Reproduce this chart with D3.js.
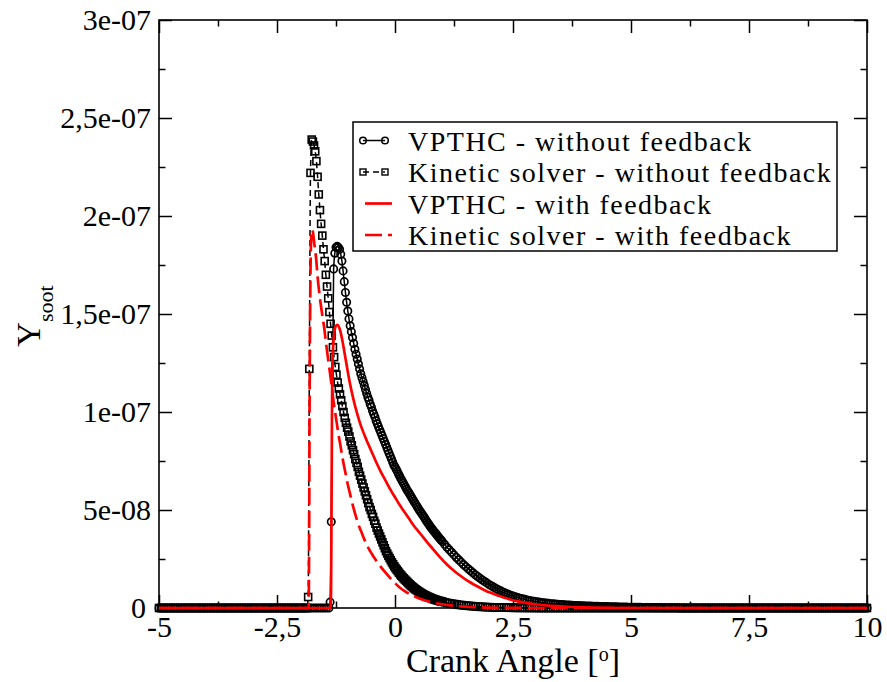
<!DOCTYPE html>
<html><head><meta charset="utf-8">
<script src="https://cdn.jsdelivr.net/npm/d3@7"></script>
<style>
body{margin:0;background:#fff}
svg text{font-family:"Liberation Serif","Times New Roman",serif;fill:#000}
</style>
</head><body>
<svg id="chart" width="887" height="682"></svg>
<script>
// ---------- data (values in units of 1e-8) ----------
const valueUnit = 1e-8;
const xMajorTicks = [-5, -2.5, 0, 2.5, 5, 7.5, 10];
const xTickLabels = ["-5", "-2,5", "0", "2,5", "5", "7,5", "10"];
const xMinorTicks = [-3.75, -1.25, 1.25, 3.75, 6.25, 8.75];
const yMajorTicks = [0, 5e-8, 1e-7, 1.5e-7, 2e-7, 2.5e-7, 3e-7];
const yTickLabels = ["0", "5e-08", "1e-07", "1,5e-07", "2e-07", "2,5e-07", "3e-07"];
const yMinorTicks = [2.5e-8, 7.5e-8, 1.25e-7, 1.75e-7, 2.25e-7, 2.75e-7];
const seriesNames = ["VPTHC - without feedback", "Kinetic solver - without feedback", "VPTHC - with feedback", "Kinetic solver - with feedback"];

// VPTHC - without feedback (circles)
const vpthcNoFeedback = [
[-5,0],[-4.95,0],[-4.9,0],[-4.85,0],[-4.8,0],[-4.75,0],[-4.7,0],[-4.65,0],[-4.6,0],[-4.55,0],
[-4.5,0],[-4.45,0],[-4.4,0],[-4.35,0],[-4.3,0],[-4.25,0],[-4.2,0],[-4.15,0],[-4.1,0],[-4.05,0],
[-4,0],[-3.95,0],[-3.9,0],[-3.85,0],[-3.8,0],[-3.75,0],[-3.7,0],[-3.65,0],[-3.6,0],[-3.55,0],
[-3.5,0],[-3.45,0],[-3.4,0],[-3.35,0],[-3.3,0],[-3.25,0],[-3.2,0],[-3.15,0],[-3.1,0],[-3.05,0],
[-3,0],[-2.95,0],[-2.9,0],[-2.85,0],[-2.8,0],[-2.75,0],[-2.7,0],[-2.65,0],[-2.6,0],[-2.55,0],
[-2.5,0],[-2.45,0],[-2.4,0],[-2.35,0],[-2.3,0],[-2.25,0],[-2.2,0],[-2.15,0],[-2.1,0],[-2.05,0],
[-2,0],[-1.95,0],[-1.9,0],[-1.85,0],[-1.8,0],[-1.75,0],[-1.7,0],[-1.65,0],[-1.6,0],[-1.55,0],
[-1.5,0],[-1.45,0],[-1.4,0],
[-1.375,0.3],[-1.35,4.4],[-1.3,17.3],[-1.275,18.1],[-1.25,18.4],[-1.225,18.45],[-1.2,18.4],[-1.175,18.3],
[-1.15,18.05],[-1.125,17.7],[-1.1,17.2],[-1.075,16.65],[-1.05,16.1],[-1.025,15.6],[-1,15.15],[-0.975,14.75],
[-0.95,14.4],[-0.925,14.1],[-0.9,13.8],[-0.875,13.5],[-0.85,13.2],[-0.825,12.95],[-0.8,12.7],[-0.775,12.45],
[-0.75,12.2],[-0.725,11.95],[-0.7,11.75],[-0.675,11.55],[-0.65,11.35],[-0.625,11.15],[-0.6,10.95],[-0.575,10.75],
[-0.55,10.6],[-0.525,10.4],[-0.5,10.25],[-0.475,10.05],[-0.45,9.9],[-0.425,9.75],[-0.4,9.55],[-0.375,9.4],
[-0.35,9.25],[-0.325,9.1],[-0.3,8.95],[-0.275,8.8],[-0.25,8.65],[-0.225,8.5],[-0.2,8.35],[-0.175,8.2],
[-0.15,8.05],[-0.125,7.9],[-0.1,7.75],[-0.075,7.6],[-0.05,7.45],[-0.025,7.3],[0,7.2],[0.025,7.08],
[0.05,6.96],[0.075,6.84],[0.1,6.72],[0.125,6.6],[0.15,6.49],[0.175,6.38],[0.2,6.27],[0.225,6.16],
[0.25,6.05],[0.275,5.95],[0.3,5.85],[0.325,5.75],[0.35,5.65],[0.375,5.55],[0.4,5.45],[0.425,5.35],
[0.45,5.25],[0.475,5.15],[0.5,5.05],[0.525,4.96],[0.55,4.87],[0.575,4.78],[0.6,4.69],[0.625,4.6],
[0.65,4.5],[0.675,4.41],[0.7,4.32],[0.725,4.23],[0.75,4.15],[0.775,4.07],[0.8,3.99],[0.825,3.91],
[0.85,3.84],[0.875,3.76],[0.9,3.69],[0.925,3.61],[0.95,3.54],[0.975,3.47],[1,3.4],
[1.05,3.25],[1.1,3.1],[1.15,2.97],[1.2,2.84],[1.25,2.71],[1.3,2.58],[1.35,2.46],[1.4,2.34],
[1.45,2.22],[1.5,2.11],[1.55,2.0],[1.6,1.9],[1.65,1.8],[1.7,1.7],[1.75,1.61],[1.8,1.52],
[1.85,1.43],[1.9,1.35],[1.95,1.27],[2,1.19],[2.05,1.12],[2.1,1.05],[2.15,0.98],[2.2,0.92],
[2.25,0.86],[2.3,0.8],[2.35,0.75],[2.4,0.7],[2.45,0.65],[2.5,0.61],[2.55,0.57],[2.6,0.53],
[2.65,0.5],[2.7,0.47],[2.75,0.44],[2.8,0.41],[2.85,0.38],[2.9,0.36],[2.95,0.34],[3,0.32],
[3.05,0.3],[3.1,0.28],[3.15,0.265],[3.2,0.25],[3.25,0.235],[3.3,0.22],[3.35,0.21],[3.4,0.2],
[3.45,0.19],[3.5,0.18],[3.55,0.17],[3.6,0.16],[3.65,0.152],[3.7,0.145],[3.75,0.137],[3.8,0.13],
[3.85,0.125],[3.9,0.12],[3.95,0.115],[4,0.11],[4.05,0.105],[4.1,0.1],[4.15,0.095],[4.2,0.09],
[4.25,0.087],[4.3,0.085],[4.35,0.08],[4.4,0.075],[4.45,0.072],[4.5,0.07],[4.55,0.065],[4.6,0.06],
[4.65,0.057],[4.7,0.055],[4.75,0.052],[4.8,0.05],[4.85,0.047],[4.9,0.045],[4.95,0.042],[5,0.04],
[5.05,0.037],[5.1,0.035],[5.15,0.032],[5.2,0.03],[5.25,0.028],[5.3,0.027],[5.35,0.025],[5.4,0.024],
[5.45,0.022],[5.5,0.02],[5.55,0.019],[5.6,0.018],[5.65,0.016],[5.7,0.015],[5.75,0.013],[5.8,0.012],
[5.85,0.011],[5.9,0.01],[5.95,0.009],[6,0.008],
[6.05,0],[6.1,0],[6.15,0],[6.2,0],[6.25,0],[6.3,0],[6.35,0],[6.4,0],[6.45,0],[6.5,0],
[6.55,0],[6.6,0],[6.65,0],[6.7,0],[6.75,0],[6.8,0],[6.85,0],[6.9,0],[6.95,0],[7,0],
[7.05,0],[7.1,0],[7.15,0],[7.2,0],[7.25,0],[7.3,0],[7.35,0],[7.4,0],[7.45,0],[7.5,0],
[7.55,0],[7.6,0],[7.65,0],[7.7,0],[7.75,0],[7.8,0],[7.85,0],[7.9,0],[7.95,0],[8,0],
[8.05,0],[8.1,0],[8.15,0],[8.2,0],[8.25,0],[8.3,0],[8.35,0],[8.4,0],[8.45,0],[8.5,0],
[8.55,0],[8.6,0],[8.65,0],[8.7,0],[8.75,0],[8.8,0],[8.85,0],[8.9,0],[8.95,0],[9,0],
[9.05,0],[9.1,0],[9.15,0],[9.2,0],[9.25,0],[9.3,0],[9.35,0],[9.4,0],[9.45,0],[9.5,0],
[9.55,0],[9.6,0],[9.65,0],[9.7,0],[9.75,0],[9.8,0],[9.85,0],[9.9,0],[9.95,0],[10,0]
];

// Kinetic solver - without feedback (squares)
const kineticNoFeedback = [
[-5,0],[-4.95,0],[-4.9,0],[-4.85,0],[-4.8,0],[-4.75,0],[-4.7,0],[-4.65,0],[-4.6,0],[-4.55,0],
[-4.5,0],[-4.45,0],[-4.4,0],[-4.35,0],[-4.3,0],[-4.25,0],[-4.2,0],[-4.15,0],[-4.1,0],[-4.05,0],
[-4,0],[-3.95,0],[-3.9,0],[-3.85,0],[-3.8,0],[-3.75,0],[-3.7,0],[-3.65,0],[-3.6,0],[-3.55,0],
[-3.5,0],[-3.45,0],[-3.4,0],[-3.35,0],[-3.3,0],[-3.25,0],[-3.2,0],[-3.15,0],[-3.1,0],[-3.05,0],
[-3,0],[-2.95,0],[-2.9,0],[-2.85,0],[-2.8,0],[-2.75,0],[-2.7,0],[-2.65,0],[-2.6,0],[-2.55,0],
[-2.5,0],[-2.45,0],[-2.4,0],[-2.35,0],[-2.3,0],[-2.25,0],[-2.2,0],[-2.15,0],[-2.1,0],[-2.05,0],
[-2,0],[-1.95,0],[-1.9,0],[-1.865,0],
[-1.84,0.56],[-1.815,12.2],[-1.79,22.2],[-1.765,23.9],[-1.74,23.8],[-1.715,23.6],[-1.69,23.3],[-1.665,22.8],
[-1.64,22.0],[-1.615,21.1],[-1.59,20.3],[-1.565,19.6],[-1.54,19.0],[-1.515,18.3],[-1.49,17.7],[-1.465,17.0],
[-1.44,16.4],[-1.415,15.8],[-1.39,15.1],[-1.365,14.5],[-1.34,13.9],[-1.315,13.3],[-1.29,12.8],[-1.265,12.3],
[-1.24,11.9],[-1.215,11.5],[-1.19,11.2],[-1.165,10.9],[-1.14,10.6],[-1.115,10.3],[-1.09,10.0],[-1.065,9.7],
[-1.04,9.45],[-1.015,9.2],[-0.99,9.0],[-0.965,8.75],[-0.94,8.5],[-0.915,8.3],[-0.89,8.05],[-0.865,7.85],
[-0.84,7.6],[-0.815,7.4],[-0.79,7.2],[-0.765,6.95],[-0.74,6.75],[-0.715,6.55],[-0.69,6.35],[-0.665,6.15],
[-0.64,5.95],[-0.615,5.75],[-0.59,5.55],[-0.565,5.35],[-0.54,5.15],[-0.515,5.0],[-0.49,4.8],[-0.465,4.65],
[-0.44,4.45],[-0.415,4.3],[-0.39,4.1],[-0.365,3.95],[-0.34,3.8],[-0.315,3.65],[-0.29,3.5],[-0.265,3.35],
[-0.24,3.2],[-0.215,3.05],[-0.19,2.9],[-0.165,2.78],[-0.14,2.66],[-0.115,2.55],[-0.09,2.44],[-0.065,2.33],
[-0.04,2.23],[-0.015,2.13],[0.01,2.04],[0.035,1.96],[0.06,1.88],[0.085,1.8],[0.11,1.72],[0.135,1.65],
[0.16,1.58],[0.185,1.51],[0.21,1.45],[0.235,1.39],[0.26,1.33],[0.285,1.27],[0.31,1.21],[0.335,1.15],
[0.36,1.1],[0.385,1.05],[0.41,1.0],[0.435,0.95],[0.46,0.91],[0.485,0.87],[0.51,0.83],[0.535,0.79],
[0.56,0.75],[0.585,0.71],[0.61,0.68],[0.635,0.65],[0.66,0.62],[0.685,0.59],[0.71,0.56],[0.735,0.535],
[0.76,0.51],[0.785,0.485],[0.81,0.46],[0.835,0.44],[0.86,0.42],[0.885,0.4],[0.91,0.38],[0.935,0.365],
[0.96,0.35],[0.985,0.335],[1.01,0.32],[1.06,0.29],[1.11,0.26],[1.16,0.24],[1.21,0.22],[1.26,0.2],
[1.31,0.18],[1.36,0.16],[1.41,0.15],[1.46,0.13],[1.51,0.12],[1.56,0.11],[1.61,0.1],[1.66,0.09],
[1.71,0.08],[1.76,0.07],[1.81,0.06],[1.86,0.055],[1.91,0.05],[1.96,0.045],[2.01,0.04],[2.06,0.035],
[2.11,0.03],[2.16,0.027],[2.21,0.024],[2.26,0.02],[2.31,0.018],[2.36,0.016],[2.41,0.014],[2.46,0.012],
[2.51,0.01],[2.55,0.009],[2.6,0.008],[2.65,0.007],[2.7,0.006],[2.75,0.0055],[2.8,0.005],[2.85,0.0045],
[2.9,0.004],[2.95,0.0035],[3,0.003],
[3.05,0],[3.1,0],[3.15,0],[3.2,0],[3.25,0],[3.3,0],[3.35,0],[3.4,0],[3.45,0],[3.5,0],
[3.55,0],[3.6,0],[3.65,0],[3.7,0],[3.75,0],[3.8,0],[3.85,0],[3.9,0],[3.95,0],[4,0],
[4.05,0],[4.1,0],[4.15,0],[4.2,0],[4.25,0],[4.3,0],[4.35,0],[4.4,0],[4.45,0],[4.5,0],
[4.55,0],[4.6,0],[4.65,0],[4.7,0],[4.75,0],[4.8,0],[4.85,0],[4.9,0],[4.95,0],[5,0],
[5.05,0],[5.1,0],[5.15,0],[5.2,0],[5.25,0],[5.3,0],[5.35,0],[5.4,0],[5.45,0],[5.5,0],
[5.55,0],[5.6,0],[5.65,0],[5.7,0],[5.75,0],[5.8,0],[5.85,0],[5.9,0],[5.95,0],[6,0],
[6.05,0],[6.1,0],[6.15,0],[6.2,0],[6.25,0],[6.3,0],[6.35,0],[6.4,0],[6.45,0],[6.5,0],
[6.55,0],[6.6,0],[6.65,0],[6.7,0],[6.75,0],[6.8,0],[6.85,0],[6.9,0],[6.95,0],[7,0],
[7.05,0],[7.1,0],[7.15,0],[7.2,0],[7.25,0],[7.3,0],[7.35,0],[7.4,0],[7.45,0],[7.5,0],
[7.55,0],[7.6,0],[7.65,0],[7.7,0],[7.75,0],[7.8,0],[7.85,0],[7.9,0],[7.95,0],[8,0],
[8.05,0],[8.1,0],[8.15,0],[8.2,0],[8.25,0],[8.3,0],[8.35,0],[8.4,0],[8.45,0],[8.5,0],
[8.55,0],[8.6,0],[8.65,0],[8.7,0],[8.75,0],[8.8,0],[8.85,0],[8.9,0],[8.95,0],[9,0],
[9.05,0],[9.1,0],[9.15,0],[9.2,0],[9.25,0],[9.3,0],[9.35,0],[9.4,0],[9.45,0],[9.5,0],
[9.55,0],[9.6,0],[9.65,0],[9.7,0],[9.75,0],[9.8,0],[9.85,0],[9.9,0],[9.95,0],[10,0]
];

// VPTHC - with feedback (red solid)
const vpthcFeedback = [
[-5,0],[-1.37,0],[-1.355,0.8],[-1.345,5],[-1.335,10],[-1.32,12.8],[-1.3,13.7],[-1.28,14.15],[-1.25,14.4],
[-1.22,14.45],[-1.18,14.3],[-1.14,13.95],[-1.1,13.45],[-1.05,12.75],[-1,12.05],[-0.95,11.4],[-0.9,10.85],
[-0.85,10.35],[-0.8,9.9],[-0.75,9.5],[-0.7,9.15],[-0.6,8.55],[-0.5,8.0],[-0.4,7.45],[-0.3,6.95],
[-0.2,6.5],[-0.1,6.05],[0,5.65],[0.1,5.25],[0.2,4.9],[0.3,4.55],[0.4,4.2],[0.5,3.9],[0.6,3.6],
[0.7,3.3],[0.8,3.02],[0.9,2.74],[1,2.47],[1.1,2.22],[1.2,2.0],[1.3,1.8],[1.4,1.62],[1.5,1.45],
[1.6,1.3],[1.7,1.16],[1.8,1.03],[1.9,0.91],[2,0.8],[2.2,0.62],[2.4,0.46],[2.6,0.34],[2.8,0.25],
[3,0.18],[3.25,0.12],[3.5,0.08],[3.75,0.05],[4,0.03],[4.5,0.01],[5,0],[10,0]
];

// Kinetic solver - with feedback (red dashed)
const kineticFeedback = [
[-5,0],[-1.83,0],[-1.82,3],[-1.81,10],[-1.795,16],[-1.78,18.6],[-1.76,19.3],[-1.74,19.2],[-1.72,18.8],
[-1.7,18.4],[-1.67,17.8],[-1.64,16.9],[-1.6,16.0],[-1.55,15.1],[-1.5,14.3],[-1.45,13.3],[-1.4,12.4],
[-1.35,11.5],[-1.3,10.5],[-1.25,9.7],[-1.2,8.9],[-1.15,8.2],[-1.1,7.5],[-1.05,6.9],[-1,6.3],
[-0.95,5.8],[-0.9,5.3],[-0.85,4.85],[-0.8,4.45],[-0.75,4.1],[-0.7,3.8],[-0.65,3.5],[-0.6,3.25],
[-0.55,3.0],[-0.5,2.8],[-0.45,2.6],[-0.4,2.42],[-0.35,2.26],[-0.3,2.1],[-0.2,1.8],[-0.1,1.52],
[0,1.27],[0.1,1.05],[0.2,0.87],[0.3,0.72],[0.4,0.6],[0.5,0.5],[0.6,0.41],[0.7,0.34],[0.8,0.28],
[0.9,0.23],[1,0.19],[1.2,0.13],[1.4,0.08],[1.6,0.05],[1.8,0.03],[2,0.02],[2.5,0.005],[3,0],[10,0]
];

// ---------- drawing ----------
const svg = d3.select("#chart");
const L = 159, R = 867, T = 20, B = 608;
const x = d3.scaleLinear().domain([-5, 10]).range([L, R]);
const y = d3.scaleLinear().domain([0, 3e-7]).range([B, T]);
const FONT = '"Liberation Serif","Times New Roman",serif';
const CIRCLE_R = 3.7, SQUARE = 7;

function styleAxis(g) {
  g.select(".domain").remove();
  g.selectAll(".tick line").attr("stroke", "#000").attr("stroke-width", 1.5);
  g.selectAll(".tick text").attr("font-size", 30).attr("font-family", FONT).attr("fill", "#000");
}
svg.append("g").attr("transform", `translate(0,${B})`)
  .call(d3.axisBottom(x).tickValues(xMajorTicks).tickSize(-13).tickPadding(8).tickFormat((d, i) => xTickLabels[i])).call(styleAxis);
svg.append("g").attr("transform", `translate(0,${B})`)
  .call(d3.axisBottom(x).tickValues(xMinorTicks).tickSize(-6.5).tickFormat("")).call(styleAxis);
svg.append("g").attr("transform", `translate(0,${T})`)
  .call(d3.axisTop(x).tickValues(xMajorTicks).tickSize(-13).tickFormat("")).call(styleAxis);
svg.append("g").attr("transform", `translate(0,${T})`)
  .call(d3.axisTop(x).tickValues(xMinorTicks).tickSize(-6.5).tickFormat("")).call(styleAxis);
const yAxisG = svg.append("g").attr("transform", `translate(${L},0)`)
  .call(d3.axisLeft(y).tickValues(yMajorTicks).tickSize(-13).tickPadding(8).tickFormat((d, i) => yTickLabels[i])).call(styleAxis);
// keep the "0" label clear of the "-5" label below it
yAxisG.selectAll(".tick text").filter(d => d === 0).attr("x", -13);
svg.append("g").attr("transform", `translate(${L},0)`)
  .call(d3.axisLeft(y).tickValues(yMinorTicks).tickSize(-6.5).tickFormat("")).call(styleAxis);
svg.append("g").attr("transform", `translate(${R},0)`)
  .call(d3.axisRight(y).tickValues(yMajorTicks).tickSize(-13).tickFormat("")).call(styleAxis);
svg.append("g").attr("transform", `translate(${R},0)`)
  .call(d3.axisRight(y).tickValues(yMinorTicks).tickSize(-6.5).tickFormat("")).call(styleAxis);

svg.append("rect").attr("x", L).attr("y", T).attr("width", R - L).attr("height", B - T)
  .attr("fill", "none").attr("stroke", "#000").attr("stroke-width", 1.6);

const line = d3.line().x(d => x(d[0])).y(d => y(d[1] * valueUnit)).curve(d3.curveMonotoneX);

// series 1: black solid + circles
svg.append("path").datum(vpthcNoFeedback).attr("d", line)
  .attr("fill", "none").attr("stroke", "#000").attr("stroke-width", 1.5);
svg.append("g").selectAll("circle").data(vpthcNoFeedback).join("circle")
  .attr("cx", d => x(d[0])).attr("cy", d => y(d[1] * valueUnit)).attr("r", CIRCLE_R)
  .attr("fill", "none").attr("stroke", "#000").attr("stroke-width", 1.7);

// series 2: black dashed + squares
svg.append("path").datum(kineticNoFeedback).attr("d", line)
  .attr("fill", "none").attr("stroke", "#000").attr("stroke-width", 1.5).attr("stroke-dasharray", "6,4");
svg.append("g").selectAll("rect").data(kineticNoFeedback).join("rect")
  .attr("x", d => x(d[0]) - SQUARE / 2).attr("y", d => y(d[1] * valueUnit) - SQUARE / 2)
  .attr("width", SQUARE).attr("height", SQUARE)
  .attr("fill", "none").attr("stroke", "#000").attr("stroke-width", 1.6);

// series 3: red solid
svg.append("path").datum(vpthcFeedback).attr("d", line)
  .attr("fill", "none").attr("stroke", "#ff0000").attr("stroke-width", 2.7);

// series 4: red dashed
svg.append("path").datum(kineticFeedback).attr("d", line)
  .attr("fill", "none").attr("stroke", "#ff0000").attr("stroke-width", 2.7).attr("stroke-dasharray", "17,6");

// ---------- legend ----------
const lg = svg.append("g");
lg.append("rect").attr("x", 353).attr("y", 122).attr("width", 484).attr("height", 129)
  .attr("fill", "#fff").attr("stroke", "#000").attr("stroke-width", 1.5);
const rowY = [140.5, 172, 203.5, 235];
lg.append("line").attr("x1", 363).attr("x2", 385).attr("y1", rowY[0]).attr("y2", rowY[0]).attr("stroke", "#000").attr("stroke-width", 1.5);
[363, 385].forEach(cx => lg.append("circle").attr("cx", cx).attr("cy", rowY[0]).attr("r", 3.3).attr("fill", "none").attr("stroke", "#000").attr("stroke-width", 1.5));
lg.append("line").attr("x1", 363).attr("x2", 385).attr("y1", rowY[1]).attr("y2", rowY[1]).attr("stroke", "#000").attr("stroke-width", 1.5).attr("stroke-dasharray", "6,4");
[363, 385].forEach(cx => lg.append("rect").attr("x", cx - 3).attr("y", rowY[1] - 3).attr("width", 6).attr("height", 6).attr("fill", "none").attr("stroke", "#000").attr("stroke-width", 1.4));
lg.append("line").attr("x1", 365).attr("x2", 392).attr("y1", rowY[2]).attr("y2", rowY[2]).attr("stroke", "#ff0000").attr("stroke-width", 2.7);
lg.append("line").attr("x1", 365).attr("x2", 392).attr("y1", rowY[3]).attr("y2", rowY[3]).attr("stroke", "#ff0000").attr("stroke-width", 2.7).attr("stroke-dasharray", "17,6");
lg.selectAll("text.lab").data(seriesNames).join("text").attr("class", "lab")
  .attr("x", 408).attr("y", (d, i) => rowY[i] + 10)
  .attr("font-size", 28).attr("letter-spacing", 1.5).attr("font-family", FONT).text(d => d);

// ---------- axis titles ----------
const xt = svg.append("text").attr("x", (L + R) / 2).attr("y", 672).attr("text-anchor", "middle")
  .attr("font-size", 34).attr("font-family", FONT);
xt.append("tspan").text("Crank Angle [");
xt.append("tspan").attr("baseline-shift", "super").attr("font-size", 20).text("o");
xt.append("tspan").text("]");

const yt = svg.append("text").attr("transform", "translate(40,316) rotate(-90)").attr("text-anchor", "middle")
  .attr("font-size", 34).attr("font-family", FONT);
yt.append("tspan").text("Y");
yt.append("tspan").attr("baseline-shift", "sub").attr("font-size", 22).text("soot");
</script>
</body></html>
